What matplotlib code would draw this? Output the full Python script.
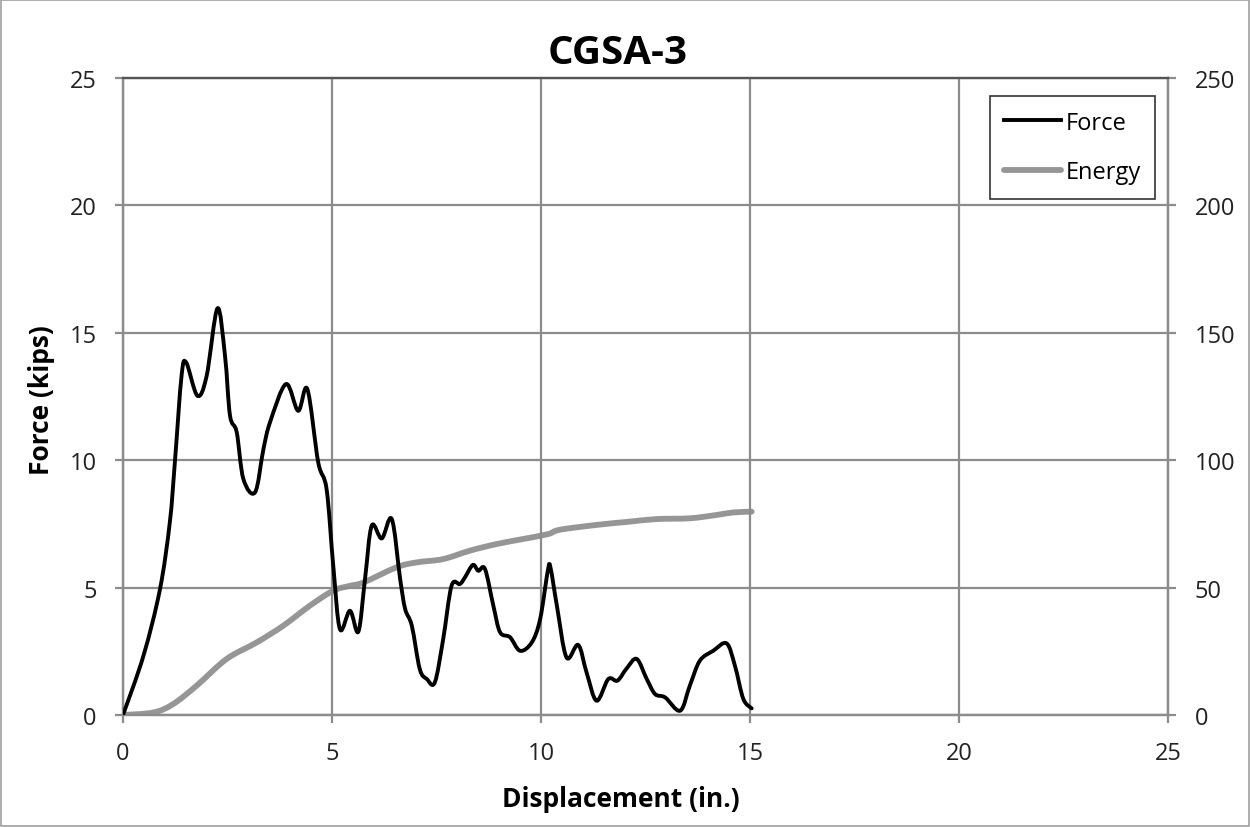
import matplotlib
matplotlib.use("Agg")
import matplotlib.pyplot as plt
from matplotlib.patches import Rectangle, PathPatch
from matplotlib.path import Path
from matplotlib.lines import Line2D

# ---- data ----
force_x = [0.0, 0.49, 0.885, 1.12, 1.24, 1.40, 1.51, 1.78, 2.0, 2.26, 2.44, 2.56, 2.72, 2.88,
           3.16, 3.36, 3.52, 3.9, 4.19, 4.41, 4.67, 4.87, 5.03, 5.19, 5.43, 5.63, 5.79, 5.95,
           6.19, 6.43, 6.63, 6.75, 6.91, 7.1, 7.27, 7.46, 7.66, 7.86, 8.06, 8.18, 8.37, 8.5,
           8.66, 8.86, 9.02, 9.26, 9.5, 9.78, 9.98, 10.17, 10.23, 10.38, 10.61, 10.89, 11.09,
           11.33, 11.61, 11.83, 12.05, 12.29, 12.53, 12.73, 12.97, 13.33, 13.56, 13.8, 14.12,
           14.44, 14.64, 14.84, 15.04]
force_y = [0.0, 2.33, 4.94, 7.56, 9.9, 13.3, 13.84, 12.53, 13.3, 15.96, 14.1, 11.75, 11.1, 9.26,
           8.74, 10.44, 11.5, 12.99, 11.94, 12.79, 9.92, 8.87, 5.86, 3.37, 4.09, 3.27, 5.34, 7.43,
           6.93, 7.69, 5.34, 4.16, 3.5, 1.8, 1.41, 1.28, 2.98, 5.07, 5.14, 5.4, 5.89, 5.66,
           5.73, 4.29, 3.25, 3.05, 2.52, 2.85, 3.77, 5.73, 5.76, 4.29, 2.26, 2.75, 1.67,
           0.56, 1.41, 1.35, 1.83, 2.2, 1.41, 0.82, 0.69, 0.17, 1.15, 2.13, 2.52,
           2.81, 1.93, 0.63, 0.26]

energy_x = [0.0, 0.73, 1.2, 1.76, 2.48, 3.2, 3.83, 4.47, 5.03, 5.43, 5.75, 6.55, 7.03, 7.66,
            8.3, 8.94, 9.58, 10.17, 10.45, 11.33, 12.13, 12.77, 13.56, 14.2, 14.6, 15.04]
energy_y = [0.0, 1.0, 4.3, 11.5, 22.0, 28.5, 35.0, 42.9, 48.8, 50.7, 52.0, 58.0, 59.9, 61.2,
            64.5, 67.1, 69.1, 71.0, 72.7, 74.6, 75.9, 76.9, 77.2, 78.5, 79.5, 79.8]

x_ticks = [0, 5, 10, 15, 20, 25]
y_ticks = [0, 5, 10, 15, 20, 25]
y2_ticks = [0, 50, 100, 150, 200, 250]

title = "CGSA-3"
xlabel = "Displacement (in.)"
ylabel = "Force (kips)"
series_names = ["Force", "Energy"]


def smooth_path(xs, ys):
    """Excel-style smoothed line: cubic Bezier segments through every data point."""
    n = len(xs)
    verts = [(xs[0], ys[0])]
    codes = [Path.MOVETO]
    for i in range(n - 1):
        x0, y0 = (xs[i - 1], ys[i - 1]) if i > 0 else (xs[i], ys[i])
        x1, y1 = xs[i], ys[i]
        x2, y2 = xs[i + 1], ys[i + 1]
        x3, y3 = (xs[i + 2], ys[i + 2]) if i + 2 < n else (x2, y2)
        c1 = (x1 + (x2 - x0) / 6.0, y1 + (y2 - y0) / 6.0)
        c2 = (x2 - (x3 - x1) / 6.0, y2 - (y3 - y1) / 6.0)
        verts += [c1, c2, (x2, y2)]
        codes += [Path.CURVE4] * 3
    return Path(verts, codes)


plt.rcParams['font.family'] = ['Open Sans', 'DejaVu Sans']

fig = plt.figure(figsize=(12.5, 8.28), dpi=100)
ax = fig.add_axes([123/1250, 1-716/828, (1168-123)/1250, (716-79)/828])
ax2 = ax.twinx()

grid_c = '#8c8c8c'
ax.set_xlim(0, 25)
ax.set_ylim(0, 25)
ax2.set_ylim(0, 250)
ax.set_xticks(x_ticks)
ax.set_yticks(y_ticks)
ax2.set_yticks(y2_ticks)
ax.grid(True, color=grid_c, linewidth=1.6)
ax.set_axisbelow(True)

for a in (ax, ax2):
    for s in a.spines.values():
        s.set_color(grid_c)
        s.set_linewidth(1.6)
    a.tick_params(direction='out', length=6, width=1.6, color=grid_c,
                  labelsize=17, labelcolor='#222222', pad=13)
ax.tick_params(axis='x', pad=13)
ax.spines['top'].set_color('#555555')

force_color = 'black'
energy_color = '#969696'

ax2.add_patch(PathPatch(smooth_path(energy_x, energy_y), fill=False, edgecolor=energy_color,
                        linewidth=4.2, capstyle='round', joinstyle='round', zorder=3))
ax.add_patch(PathPatch(smooth_path(force_x, force_y), fill=False, edgecolor=force_color,
                       linewidth=2.8, capstyle='round', joinstyle='round', zorder=4))
ax.set_zorder(ax2.get_zorder() + 1)
ax.patch.set_visible(False)

ax.set_xlabel(xlabel, fontsize=19, fontweight='bold')
ax.set_ylabel(ylabel, fontsize=19, fontweight='bold')
ax.xaxis.label.set_va('center')
ax.xaxis.set_label_coords((621 - 123) / 1045, (716 - 800) / 637)
ax.yaxis.label.set_va('center')
ax.yaxis.set_label_coords((42 - 123) / 1045, (716 - 400) / 637)
fig.text(618/1250, 1-53/828, title, fontsize=29, fontweight='bold', ha='center', va='center')

handles = [Line2D([], [], color=force_color, linewidth=2.8),
           Line2D([], [], color=energy_color, linewidth=4.2, solid_capstyle='round')]
leg = fig.legend(handles=handles, labels=series_names, loc='center',
                 bbox_to_anchor=(990/1250, 1-200/828, (1155-990)/1250, (200-97)/828),
                 bbox_transform=fig.transFigure,
                 fontsize=17, frameon=True, fancybox=False, edgecolor='black',
                 handlelength=2.4, handletextpad=0.2, labelspacing=1.1, borderpad=0.6)
leg.get_frame().set_linewidth(1.2)

fig.patches.append(Rectangle((0.001, 0.001), 0.998, 0.998, transform=fig.transFigure,
                             fill=False, edgecolor='#a0a0a0', linewidth=1.2))

fig.savefig('out.png', dpi=100)
